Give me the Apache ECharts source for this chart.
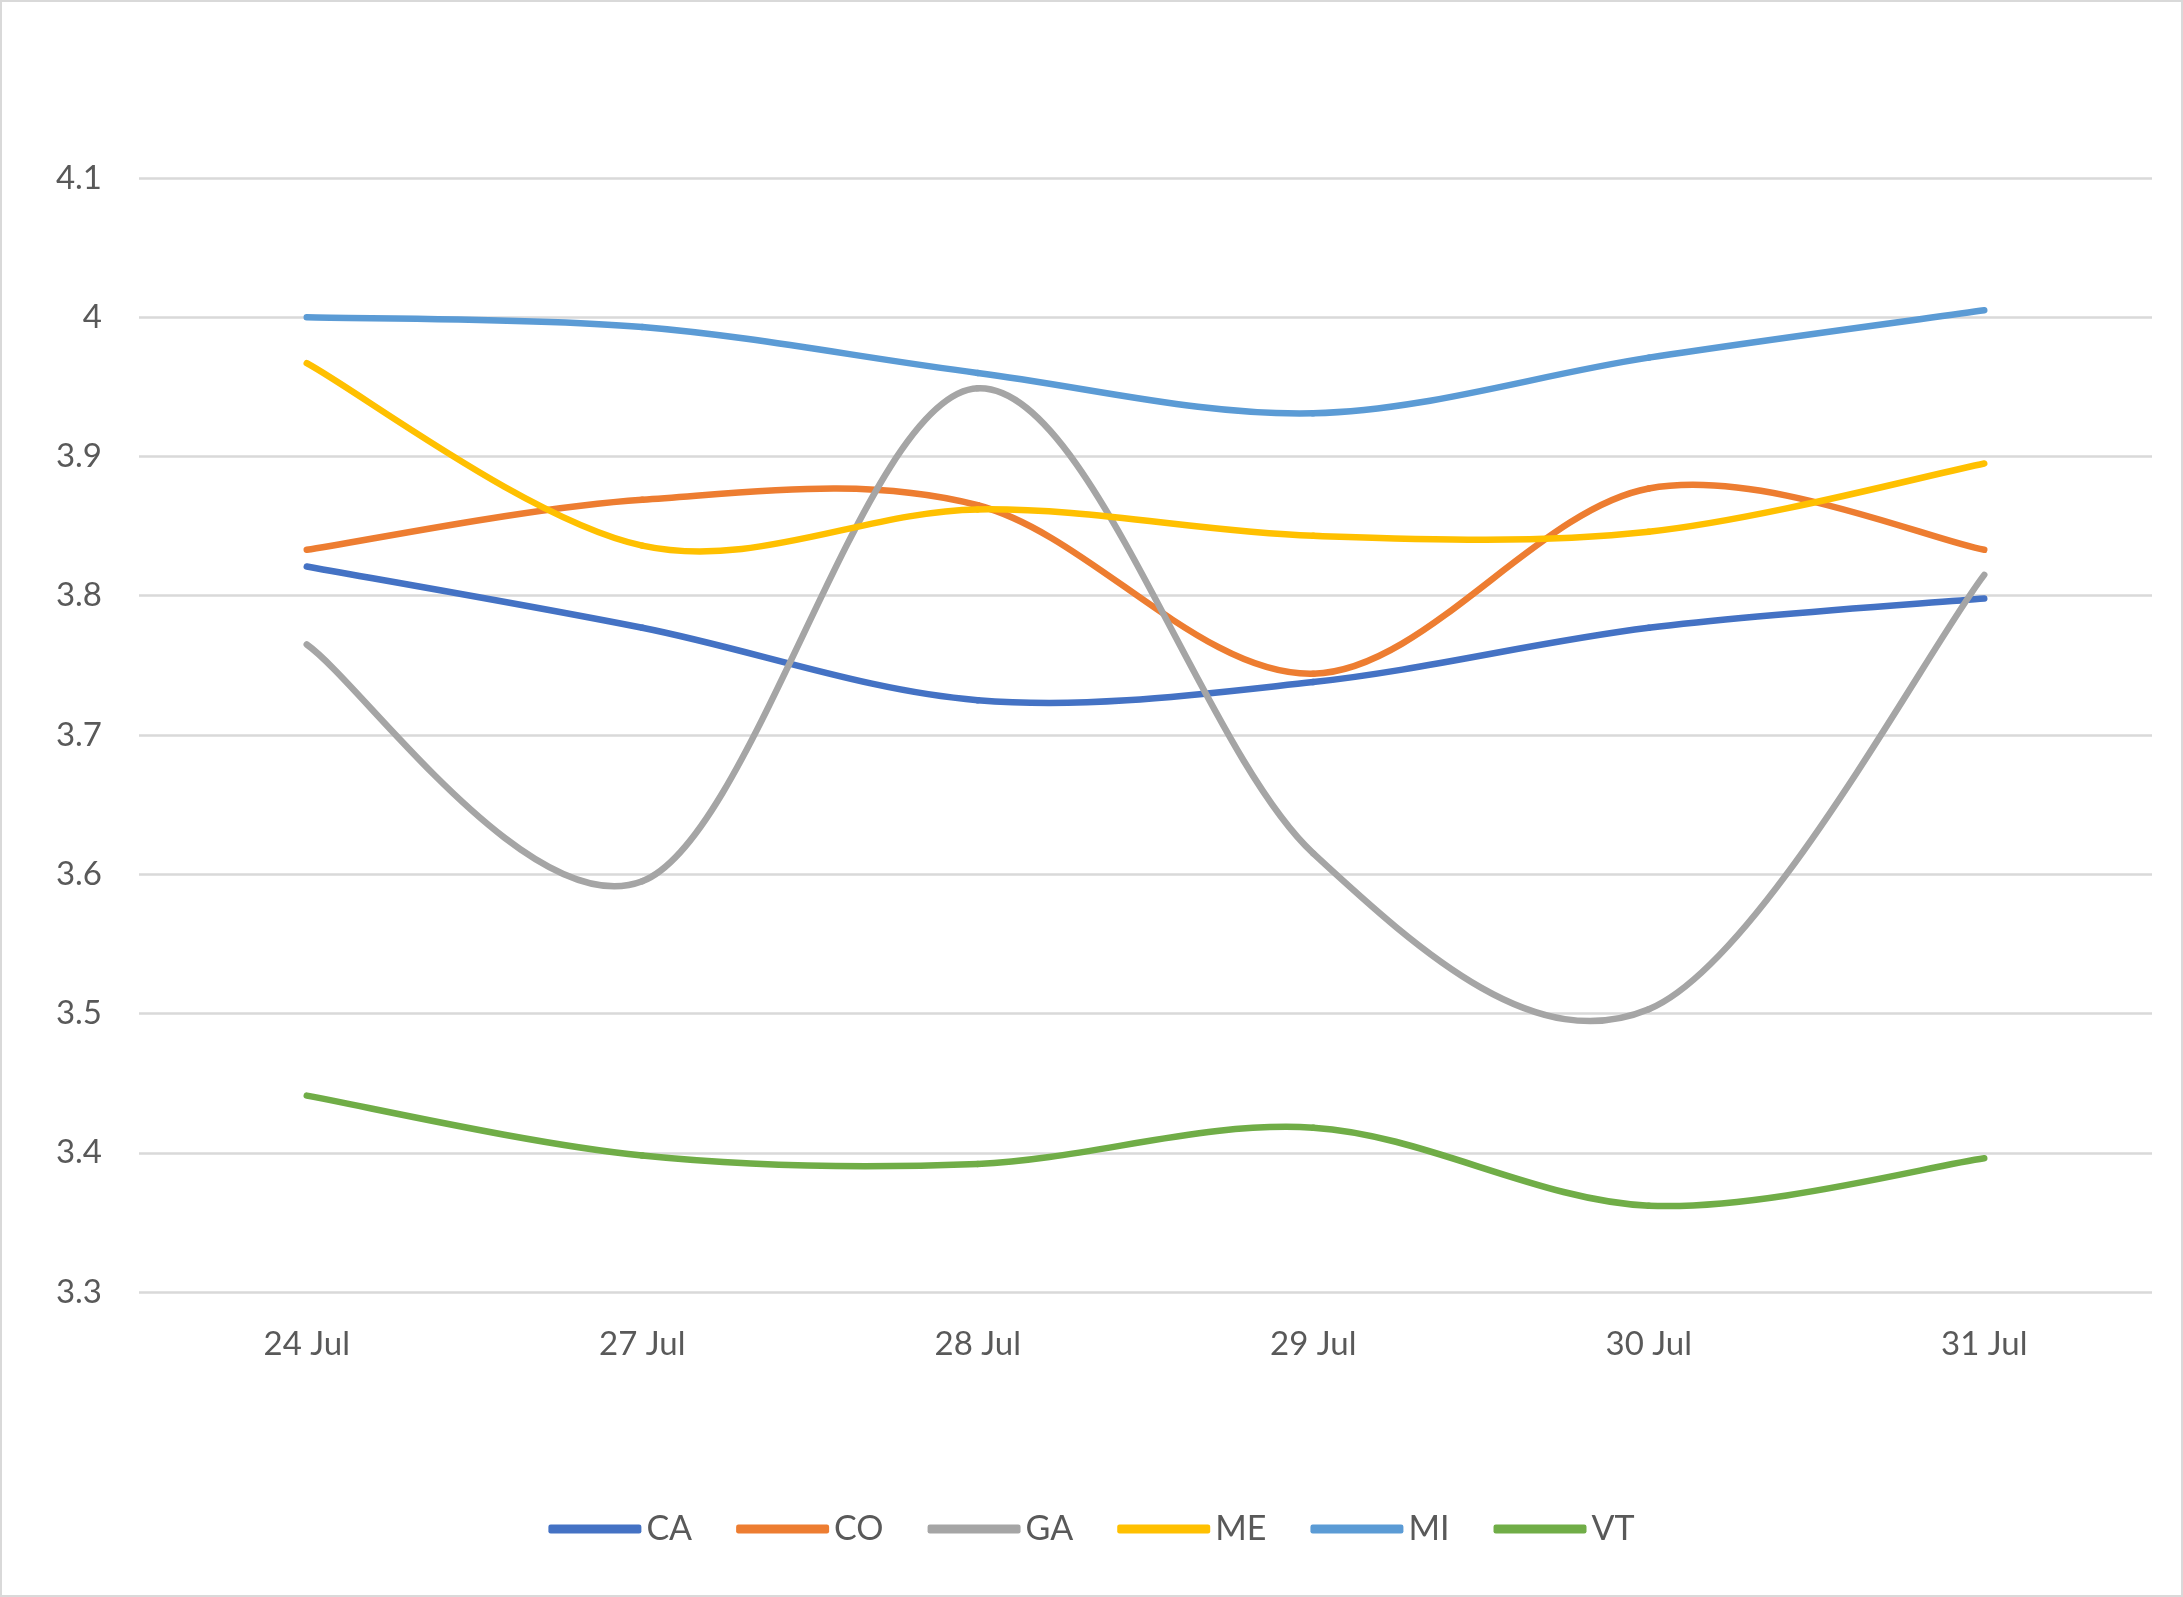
<!DOCTYPE html>
<html>
<head>
<meta charset="utf-8">
<title>Line chart</title>
<script src="https://cdn.jsdelivr.net/npm/echarts@6/dist/echarts.min.js"></script>
<style>
  html, body { margin: 0; padding: 0; background: #fff; }
  #chart {
    width: 2183px;
    height: 1597px;
    box-sizing: border-box;
    border: 2px solid #d9d9d9;
  }
</style>
</head>
<body>
<div id="chart"></div>
<script>
let categories = ['24 Jul', '27 Jul', '28 Jul', '29 Jul', '30 Jul', '31 Jul'];

let CA = [3.821, 3.777, 3.725, 3.738, 3.777, 3.798];
let CO = [3.833, 3.869, 3.865, 3.744, 3.877, 3.833];
let GA = [3.765, 3.595, 3.949, 3.615, 3.503, 3.815];
let ME = [3.967, 3.836, 3.862, 3.843, 3.846, 3.895];
let MI = [4.000, 3.993, 3.960, 3.931, 3.971, 4.005];
let VT = [3.441, 3.398, 3.392, 3.418, 3.362, 3.396];

let seriesNames = ['CA', 'CO', 'GA', 'ME', 'MI', 'VT'];
let seriesValues = [CA, CO, GA, ME, MI, VT];
let colorList = ['#4472c4', '#ed7d31', '#a5a5a5', '#ffc000', '#5b9bd5', '#70ad47'];

(function () {
  let myChart = echarts.init(document.getElementById('chart'));
  let font = 'Lato, "Open Sans", sans-serif';

  // smoothed like the spreadsheet: catmull-rom segments, drawn through the axis scales
  function makeRenderItem(values, color) {
    return function (params, api) {
      let i = params.dataIndex;
      let n = values.length;
      if (i >= n - 1) return null;
      let p = function (k) {
        k = Math.max(0, Math.min(n - 1, k));
        return api.coord([k, values[k]]);
      };
      let p0 = p(i - 1), p1 = p(i), p2 = p(i + 1), p3 = p(i + 2);
      return {
        type: 'bezierCurve',
        shape: {
          x1: p1[0], y1: p1[1],
          x2: p2[0], y2: p2[1],
          cpx1: p1[0] + (p2[0] - p0[0]) / 6,
          cpy1: p1[1] + (p2[1] - p0[1]) / 6,
          cpx2: p2[0] - (p3[0] - p1[0]) / 6,
          cpy2: p2[1] - (p3[1] - p1[1]) / 6
        },
        style: {
          fill: null,
          stroke: color,
          lineWidth: 6.5,
          lineCap: 'round'
        }
      };
    };
  }

  let series = seriesNames.map((name, i) => {
    return {
      name: name,
      type: 'custom',
      data: seriesValues[i].map((v, k) => [k, v]),
      encode: { x: 0, y: 1 },
      itemStyle: { color: colorList[i] },
      renderItem: makeRenderItem(seriesValues[i], colorList[i])
    };
  });

  let option = {
    animation: false,
    color: colorList,
    grid: {
      left: 137,
      right: 29,
      top: 176,
      bottom: 303,
      containLabel: false
    },
    legend: {
      bottom: 44,
      left: 'center',
      icon: 'roundRect',
      itemWidth: 93,
      itemHeight: 9,
      itemGap: 44,
      textStyle: {
        color: '#595959',
        fontSize: 34,
        fontFamily: font
      },
      data: seriesNames
    },
    xAxis: {
      type: 'category',
      data: categories,
      boundaryGap: true,
      axisLine: { show: false },
      axisTick: { show: false },
      axisLabel: {
        color: '#595959',
        fontSize: 33,
        fontFamily: font,
        margin: 36
      }
    },
    yAxis: {
      type: 'value',
      min: 3.3,
      max: 4.1,
      interval: 0.1,
      axisLine: { show: false },
      axisTick: { show: false },
      axisLabel: {
        color: '#595959',
        fontSize: 33,
        fontFamily: font,
        margin: 37,
        formatter: function (v) {
          return +v.toFixed(1) + '';
        }
      },
      splitLine: {
        lineStyle: { color: '#d9d9d9', width: 2.5 }
      }
    },
    series: series
  };

  myChart.setOption(option);
})();
</script>
</body>
</html>
